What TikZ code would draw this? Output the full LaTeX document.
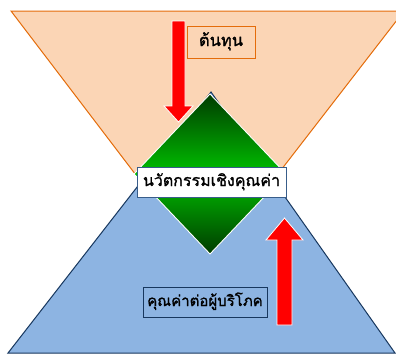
\documentclass[tikz,border=0pt]{standalone}
\usepackage{fontspec}
\newfontfamily\thaimed[Script=Thai,FakeBold=1.2]{Loma}
\definecolor{orfill}{RGB}{251,213,181}
\definecolor{ordraw}{RGB}{228,108,10}
\definecolor{blfill}{RGB}{141,180,226}
\definecolor{bldraw}{RGB}{23,55,94}
\definecolor{dgreen}{RGB}{0,60,0}
\definecolor{bgreen}{RGB}{0,192,0}
\definecolor{boxdraw}{RGB}{56,93,138}
\tikzset{
  lbl/.style={inner sep=0pt, text height=14pt, text depth=6pt},
  redarrow/.style={fill=red, draw=white, line width=0.8pt},
}
\begin{document}
\begin{tikzpicture}[x=1pt,y=-1pt]
\useasboundingbox (0,0) rectangle (396,354);
\clip (0,0) rectangle (396,354);
% orange inverted triangle
\draw[fill=orfill, draw=ordraw, line width=1pt] (11,11) -- (404,11) -- (206,267) -- cycle;
% blue triangle
\draw[fill=blfill, draw=bldraw, line width=1pt] (211,92) -- (395,353) -- (8,353) -- cycle;
% diamond
\shade[top color=dgreen, bottom color=dgreen, middle color=bgreen] (210,94) -- (286,174) -- (210,254) -- (134,174) -- cycle;
\draw[white, line width=0.9pt] (210,94) -- (286,174) -- (210,254) -- (134,174) -- cycle;
% down arrow
\draw[redarrow] (172,21) -- (185,21) -- (185,106) -- (193,106) -- (178.5,122) -- (164,106) -- (172,106) -- cycle;
% up arrow
\draw[redarrow] (277,325) -- (292,325) -- (292,240) -- (303,240) -- (284.5,218) -- (266,240) -- (277,240) -- cycle;
% labels
\node[lbl, font=\thaimed\fontsize{16.5}{19}\selectfont, draw=ordraw, fill=orfill, line width=0.8pt, minimum width=68pt, minimum height=32pt] (cost) at (221,42) {ต้นทุน};
\node[lbl, font=\thaimed\fontsize{16}{19}\selectfont, draw=boxdraw, fill=white, line width=0.8pt, minimum width=149pt, minimum height=30pt] (innov) at (211.5,182) {นวัตกรรมเชิงคุณค่า};
\node[lbl, font=\thaimed\fontsize{15}{18}\selectfont, draw=bldraw, line width=0.8pt, minimum width=124pt, minimum height=30pt] (value) at (205,302) {คุณค่าต่อผู้บริโภค};
\end{tikzpicture}
\end{document}
